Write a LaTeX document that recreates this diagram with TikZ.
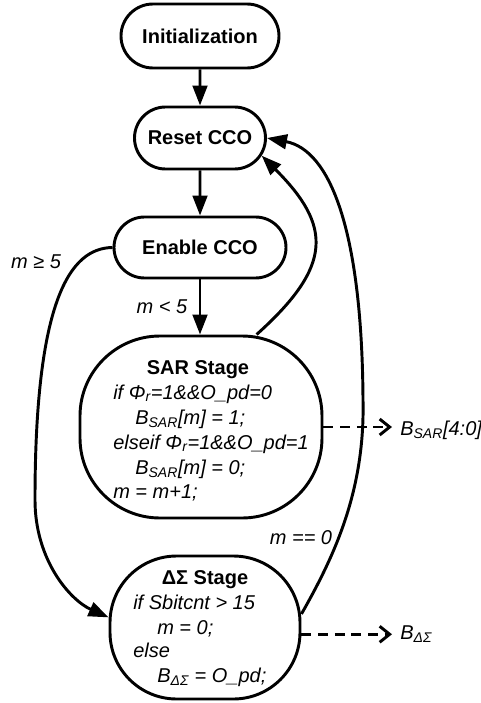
\documentclass[tikz,border=0pt]{standalone}
\usepackage{fontspec}
\setmainfont{Liberation Sans}
\usetikzlibrary{arrows.meta,shapes.misc}

\tikzset{
  stbox/.style={rounded rectangle, draw, line width=2.2pt, inner sep=0pt,
    font=\bfseries\fontsize{15}{18}\selectfont},
  stagebox/.style={rectangle, draw, line width=2.2pt},
  flow/.style={line width=2.2pt, -{Triangle[length=15pt,width=11pt]}},
  dataflow/.style={line width=2.2pt, dash pattern=on 7.5pt off 5pt,
    -{Straight Barb[length=7.5pt,width=12pt]}},
  cond/.style={inner sep=0pt, font=\itshape\fontsize{15}{18}\selectfont},
  ttl/.style={inner sep=0pt, anchor=base, font=\bfseries\fontsize{15}{18}\selectfont},
  ln/.style={inner sep=0pt, anchor=base west, font=\itshape\fontsize{15}{18}\selectfont},
}

\begin{document}
\begin{tikzpicture}[x=0.75pt,y=0.75pt,yscale=-1,xscale=1]
\useasboundingbox (0,0) rectangle (480,703);
% states
\node[stbox, minimum width=118.5pt, minimum height=48pt] (init) at (200,36) {Initialization};
\node[stbox, minimum width=98.25pt, minimum height=46.5pt] (reset) at (200,138) {Reset CCO};
\node[stbox, minimum width=129pt, minimum height=45.75pt] (enable) at (200,247.5) {Enable CCO};
% stages
\node[stagebox, rounded corners=60pt, minimum width=181.5pt, minimum height=136.5pt] (sar) at (201,427) {};
\node[stagebox, rounded corners=50pt, minimum width=142.5pt, minimum height=107.25pt] (dss) at (205,627.5) {};

\node[ttl] (sart) at (198,374) {SAR Stage};
\node[ln] (sar1) at (113,399) {if Φ\textsubscript{r}=1\&\&O\_pd=0};
\node[ln] (sar2) at (135,424) {B\textsubscript{SAR}[m] = 1;};
\node[ln] (sar3) at (113,449) {elseif Φ\textsubscript{r}=1\&\&O\_pd=1};
\node[ln] (sar4) at (135,474) {B\textsubscript{SAR}[m] = 0;};
\node[ln] (sar5) at (113,498) {m = m+1;};

\node[ttl] (dsst) at (205,584) {ΔΣ Stage};
\node[ln] (dss1) at (133,609) {if Sbitcnt > 15};
\node[ln] (dss2) at (157,634) {m = 0;};
\node[ln] (dss3) at (133,657) {else};
\node[ln] (dss4) at (157,682) {B\textsubscript{ΔΣ} = O\_pd;};

% conditions and outputs
\node[cond] (ge5) at (36,262) {m ≥ 5};
\node[cond] (lt5) at (162,307) {m < 5};
\node[cond] (eq0) at (301,538) {m == 0};
\node[cond, anchor=west, inner xsep=6pt] (bsar) at (392,430) {B\textsubscript{SAR}[4:0]};
\node[cond, anchor=west, inner xsep=6pt] (bdss) at (392,634) {B\textsubscript{ΔΣ}};

% transitions
\draw[flow] (init) -- (reset);
\draw[flow] (reset) -- (enable);
\draw[flow] (enable.south) -- (enable.south |- sar.north);
\draw[flow] (enable.west) .. controls (70,248) and (35,300) .. (35,500) .. controls (35,560) and (70,600) .. (dss.174);
\draw[flow] (sar.59) .. controls (333,266) and (332,226) .. (reset.-16);
\draw[flow] (dss.8) .. controls (335,555) and (365,490) .. (363,400) .. controls (362,230) and (330,150) .. (reset.east);
\draw[dataflow] (sar.east) -- (sar.east -| bsar.west);
\draw[dataflow] (dss.-4) -- (dss.-4 -| bdss.west);
\end{tikzpicture}
\end{document}
